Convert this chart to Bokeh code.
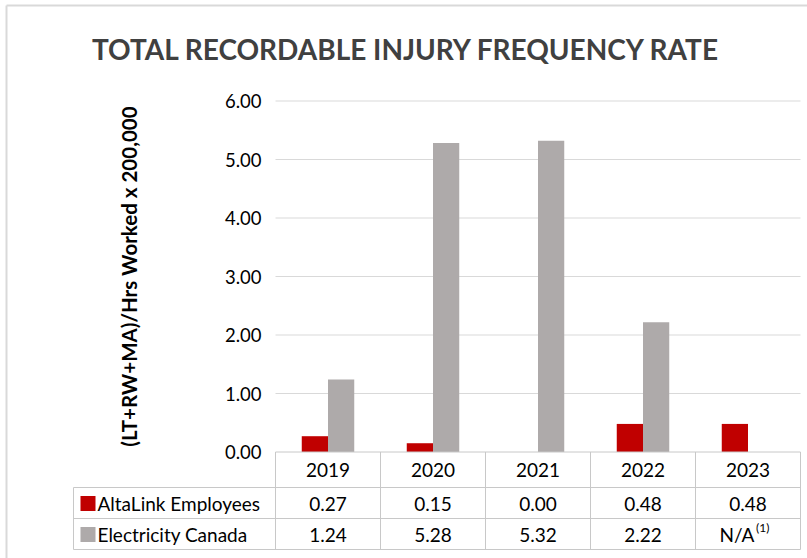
import math
from bokeh.plotting import figure
from bokeh.models import Range1d
from bokeh.core.properties import value
from bokeh.embed import file_html
from bokeh.resources import INLINE

# ---- data ----
years = ["2019", "2020", "2021", "2022", "2023"]
altalink = [0.27, 0.15, 0.00, 0.48, 0.48]
elec_canada = [1.24, 5.28, 5.32, 2.22, None]
series_names = ["AltaLink Employees", "Electricity Canada"]
y_ticks = [0, 1, 2, 3, 4, 5, 6]
title_text = "TOTAL RECORDABLE INJURY FREQUENCY RATE"
y_label = "(LT+RW+MA)/Hrs Worked x 200,000"
na_text = "N/A"
footnote_mark = "(1)"

# ---- style ----
RED = "#C00000"
GREY = "#AEAAAA"
FONT = value("Lato")
GRID = "#D9D9D9"
TABLE = "#C8C8C8"
TXT = "19px"

W, H = 807, 558
X0, XW = 275.0, 105.0   # pixel of x=0, pixels per column
Y0, YS = 451.5, 58.5    # pixel of y=0, pixels per unit


def fx(px):
    return (px - X0) / XW


def fy(py):
    return (Y0 - py) / YS


n = len(years)
p = figure(width=W, height=H, x_range=Range1d(fx(0), fx(W)), y_range=Range1d(fy(H), fy(0)),
           x_axis_type=None, y_axis_type=None, toolbar_location=None, output_backend="svg",
           min_border=0)
p.outline_line_color = None
p.background_fill_color = "white"
p.border_fill_color = "white"

# outer border
p.segment(x0=[fx(6), fx(6)], y0=[fy(5), fy(5)], x1=[fx(W), fx(6)], y1=[fy(5), fy(H)],
          line_color="#D9D9D9", line_width=2)

# gridlines
gt = y_ticks[1:]
p.segment(x0=[0] * len(gt), x1=[n] * len(gt), y0=gt, y1=gt, line_color=GRID, line_width=1)

# bars
centers = [i + 0.5 for i in range(n)]
bw = 0.25
p.vbar(x=[c - bw / 2 for c in centers], top=altalink, width=bw, bottom=0,
       fill_color=RED, line_color=None)
ex = [c + bw / 2 for c, v in zip(centers, elec_canada) if v is not None]
ev = [v for v in elec_canada if v is not None]
p.vbar(x=ex, top=ev, width=bw, bottom=0, fill_color=GREY, line_color=None)

# y tick labels
p.text(x=[fx(261)] * len(y_ticks), y=y_ticks, text=["%.2f" % t for t in y_ticks],
       text_align="right", text_baseline="middle", text_font=FONT, text_font_size="18.5px",
       text_color="#000000")

# y axis label
p.text(x=[fx(128)], y=[fy(276)], text=[y_label], angle=math.pi / 2, text_align="center",
       text_baseline="middle", text_font=FONT, text_font_style="bold", text_font_size="20.5px",
       text_color="#000000")

# title
p.text(x=[fx(406)], y=[fy(48)], text=[title_text], text_align="center", text_baseline="middle",
       text_font=FONT, text_font_style="bold", text_font_size="28px", text_color="#404040")

# table lines
xl = fx(73)
hy = [0, fy(487), fy(518), fy(549)]
hx0 = [0, xl, xl, xl]
p.segment(x0=hx0, x1=[n] * 4, y0=hy, y1=hy, line_color=TABLE, line_width=1)
vx = list(range(n + 1))
p.segment(x0=vx, x1=vx, y0=[0] * len(vx), y1=[fy(549)] * len(vx), line_color=TABLE, line_width=1)
p.segment(x0=[xl], x1=[xl], y0=[fy(487)], y1=[fy(549)], line_color=TABLE, line_width=1)

# header row
row_y = [fy(469), fy(503), fy(534)]
p.text(x=centers, y=[row_y[0]] * n, text=years, text_align="center", text_baseline="middle",
       text_font=FONT, text_font_size=TXT, text_color="#000000")

# data rows
a_txt = ["%.2f" % v for v in altalink]
p.text(x=centers, y=[row_y[1]] * n, text=a_txt, text_align="center", text_baseline="middle",
       text_font=FONT, text_font_size=TXT, text_color="#000000")
e_x = [c for c, v in zip(centers, elec_canada) if v is not None]
e_txt = ["%.2f" % v for v in elec_canada if v is not None]
p.text(x=e_x, y=[row_y[2]] * len(e_x), text=e_txt, text_align="center", text_baseline="middle",
       text_font=FONT, text_font_size=TXT, text_color="#000000")
na_x = [c for c, v in zip(centers, elec_canada) if v is None]
p.text(x=na_x, y=[row_y[2]] * len(na_x), text=[na_text] * len(na_x), x_offset=-11,
       text_align="center", text_baseline="middle", text_font=FONT, text_font_size=TXT,
       text_color="#000000")
p.text(x=na_x, y=[row_y[2]] * len(na_x), text=[footnote_mark] * len(na_x), x_offset=8,
       y_offset=-7, text_align="left", text_baseline="middle", text_font=FONT,
       text_font_size="12px", text_color="#000000")

# legend keys + labels
p.scatter(x=[fx(87.5)] * 2, y=row_y[1:], marker="square", size=15,
          fill_color=[RED, GREY], line_color=None)
p.text(x=[fx(97)] * 2, y=row_y[1:], text=series_names, text_align="left", text_baseline="middle",
       text_font=FONT, text_font_size=TXT, text_color="#000000")

open("out.html", "w").write(file_html(p, INLINE))
